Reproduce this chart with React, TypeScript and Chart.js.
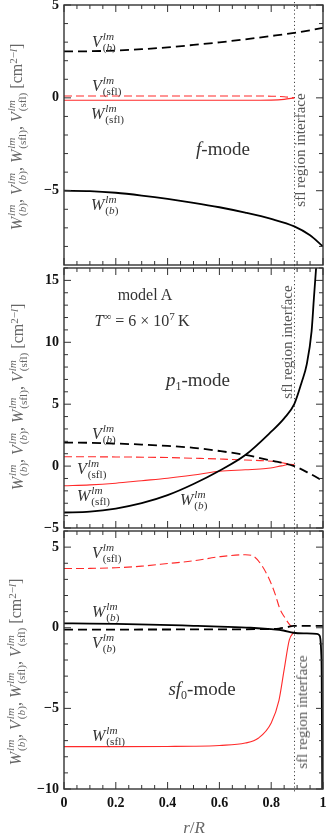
import React, { useEffect, useRef } from "react";
import { Chart, registerables } from "chart.js";
Chart.register(...registerables);

const SERIF = '"Liberation Serif", "DejaVu Serif", "Times New Roman", serif';
const PAGE_W = 327;
const PAGE_H = 836;
const PLOT_LEFT = 64;
const PLOT_RIGHT = 323;
const X_AXIS_H = 30;
const INTERFACE_R = 0.889;

// ---- shared x axis ----
const X_LABELS = [0, 0.2, 0.4, 0.6, 0.8, 1];
const X_MINOR = [0.05, 0.1, 0.15, 0.25, 0.3, 0.35, 0.45, 0.5, 0.55, 0.65, 0.7, 0.75, 0.85, 0.9, 0.95];

// ---- panel 1: f-mode ----
const F_Y_LABELS = [-5, 0, 5];
const F_Y_MINOR = [-8, -7, -6, -4, -3, -2, -1, 1, 2, 3, 4];
const F_R = [0, 0.1, 0.2, 0.3, 0.4, 0.5, 0.6, 0.7, 0.8, 0.889, 0.95, 1.0];
const F_VB = [2.5, 2.51, 2.55, 2.62, 2.72, 2.85, 2.99, 3.15, 3.33, 3.5, 3.64, 3.77];
const F_WB = [-5.0, -5.02, -5.11, -5.26, -5.44, -5.65, -5.89, -6.18, -6.52, -6.92, -7.4, -8.0];
const F_SFL_R = [0, 0.2, 0.4, 0.6, 0.7, 0.8, 0.85, 0.889];
const F_VSFL = [0.1, 0.1, 0.1, 0.1, 0.1, 0.09, 0.06, 0.0];
const F_WSFL = [-0.13, -0.13, -0.13, -0.13, -0.13, -0.12, -0.08, 0.0];

// ---- panel 2: p1-mode ----
const P_Y_LABELS = [-5, 0, 5, 10, 15];
const P_Y_MINOR = [-4, -3, -2, -1, 1, 2, 3, 4, 6, 7, 8, 9, 11, 12, 13, 14, 16];
const P_WB_R = [0, 0.1, 0.2, 0.3, 0.4, 0.5, 0.6, 0.7, 0.8, 0.85, 0.889, 0.918, 0.937, 0.956, 0.965, 0.973, 0.977];
const P_WB = [-3.75, -3.68, -3.43, -3.0, -2.35, -1.45, -0.38, 0.89, 2.78, 3.86, 5.0, 6.8, 8.2, 10.9, 13.6, 15.9, 17.0];
const P_VB_R = [0, 0.1, 0.2, 0.3, 0.4, 0.5, 0.6, 0.7, 0.8, 0.889, 0.95, 1.0];
const P_VB = [1.9, 1.88, 1.82, 1.74, 1.63, 1.48, 1.22, 0.9, 0.45, 0.0, -0.62, -1.2];
const P_VSFL_R = [0, 0.2, 0.4, 0.525, 0.6, 0.7, 0.82, 0.873, 0.889];
const P_VSFL = [0.76, 0.74, 0.69, 0.62, 0.57, 0.49, 0.35, 0.14, 0.08];
const P_WSFL_R = [0, 0.1, 0.2, 0.3, 0.4, 0.5, 0.6, 0.7, 0.78, 0.84, 0.873, 0.889];
const P_WSFL = [-1.59, -1.52, -1.38, -1.18, -0.98, -0.72, -0.42, -0.3, -0.2, 0.02, 0.15, 0.12];

// ---- panel 3: sf0-mode ----
const S_Y_LABELS = [-10, -5, 0, 5];
const S_Y_MINOR = [-9, -8, -7, -6, -4, -3, -2, -1, 1, 2, 3, 4, 6];
const S_VSFL_R = [0, 0.1, 0.2, 0.3, 0.4, 0.5, 0.6, 0.7, 0.73, 0.76, 0.79, 0.815, 0.834, 0.853, 0.873, 0.886];
const S_VSFL = [3.67, 3.68, 3.72, 3.82, 3.98, 4.15, 4.4, 4.53, 4.45, 3.95, 3.1, 2.1, 1.15, 0.62, 0.16, 0.02];
const S_WB_R = [0, 0.1, 0.2, 0.33, 0.5, 0.6, 0.72, 0.8, 0.847, 0.886, 0.93, 0.976, 0.985, 0.99, 0.993, 0.995, 0.997];
const S_WB = [0.27, 0.26, 0.24, 0.2, 0.12, 0.07, 0.0, -0.09, -0.17, -0.31, -0.35, -0.38, -0.45, -0.7, -1.5, -3.0, -10.0];
const S_VB_R = [0, 0.3, 0.6, 0.78, 0.83, 0.86, 0.886, 0.95, 1.0];
const S_VB = [-0.12, -0.11, -0.1, -0.08, -0.05, 0.03, 0.12, 0.12, 0.12];
const S_WSFL_R = [0, 0.2, 0.4, 0.5, 0.6, 0.7, 0.75, 0.8, 0.83, 0.85, 0.87, 0.886];
const S_WSFL = [-7.37, -7.37, -7.36, -7.35, -7.3, -7.15, -6.85, -5.9, -4.5, -2.6, -0.75, -0.3];

type Series = { r: number[]; v: number[]; color: string; dash: number[]; width: number };
type Panel = {
  top: number;
  bottom: number;
  yMin: number;
  yMax: number;
  yLabels: number[];
  yMinor: number[];
  showX: boolean;
  series: Series[];
};

const BLACK = "#000000";
const RED = "#ff2a2a";
const BLACK_DASH = [9, 5];
const RED_DASH = [8, 4];

const PANELS: Panel[] = [
  {
    top: 5, bottom: 265, yMin: -9, yMax: 5, yLabels: F_Y_LABELS, yMinor: F_Y_MINOR, showX: false,
    series: [
      { r: F_R, v: F_VB, color: BLACK, dash: BLACK_DASH, width: 1.8 },
      { r: F_R, v: F_WB, color: BLACK, dash: [], width: 1.8 },
      { r: F_SFL_R, v: F_VSFL, color: RED, dash: RED_DASH, width: 1.1 },
      { r: F_SFL_R, v: F_WSFL, color: RED, dash: [], width: 1.1 },
    ],
  },
  {
    top: 268, bottom: 528, yMin: -5, yMax: 16, yLabels: P_Y_LABELS, yMinor: P_Y_MINOR, showX: false,
    series: [
      { r: P_VB_R, v: P_VB, color: BLACK, dash: BLACK_DASH, width: 1.8 },
      { r: P_WB_R, v: P_WB, color: BLACK, dash: [], width: 1.8 },
      { r: P_VSFL_R, v: P_VSFL, color: RED, dash: RED_DASH, width: 1.1 },
      { r: P_WSFL_R, v: P_WSFL, color: RED, dash: [], width: 1.1 },
    ],
  },
  {
    top: 531, bottom: 789, yMin: -10, yMax: 6, yLabels: S_Y_LABELS, yMinor: S_Y_MINOR, showX: true,
    series: [
      { r: S_VB_R, v: S_VB, color: BLACK, dash: BLACK_DASH, width: 1.8 },
      { r: S_WB_R, v: S_WB, color: BLACK, dash: [], width: 1.8 },
      { r: S_VSFL_R, v: S_VSFL, color: RED, dash: RED_DASH, width: 1.1 },
      { r: S_WSFL_R, v: S_WSFL, color: RED, dash: [], width: 1.1 },
    ],
  },
];

const fmtNum = (v: number) => (v < 0 ? "\u2212" + String(Math.abs(v)) : String(v));

function framePlugin(p: Panel) {
  return {
    id: "frame",
    beforeDatasetsDraw(chart: any) {
      const { ctx, chartArea: a, scales } = chart;
      const xi = Math.round(scales.x.getPixelForValue(INTERFACE_R)) + 0.5;
      ctx.save();
      ctx.strokeStyle = "#444";
      ctx.lineWidth = 1;
      ctx.setLineDash([1.2, 2.6]);
      ctx.beginPath();
      ctx.moveTo(xi, a.top - 3);
      ctx.lineTo(xi, a.bottom + 3);
      ctx.stroke();
      ctx.restore();
    },
    afterDraw(chart: any) {
      const { ctx, chartArea: a, scales } = chart;
      const x = scales.x;
      const y = scales.y;
      ctx.save();
      ctx.strokeStyle = "#333";
      ctx.lineWidth = 1;
      const xt = (vals: number[], len: number) => {
        vals.forEach((v) => {
          const px = x.getPixelForValue(v);
          ctx.beginPath();
          ctx.moveTo(px, a.bottom);
          ctx.lineTo(px, a.bottom - len);
          ctx.moveTo(px, a.top);
          ctx.lineTo(px, a.top + len);
          ctx.stroke();
        });
      };
      const yt = (vals: number[], len: number) => {
        vals.forEach((v) => {
          if (v < p.yMin || v > p.yMax) return;
          const py = y.getPixelForValue(v);
          ctx.beginPath();
          ctx.moveTo(a.left, py);
          ctx.lineTo(a.left + len, py);
          ctx.moveTo(a.right, py);
          ctx.lineTo(a.right - len, py);
          ctx.stroke();
        });
      };
      xt(X_LABELS, 7);
      xt(X_MINOR, 4);
      yt(p.yLabels, 7);
      yt(p.yMinor, 4);
      ctx.strokeStyle = "#333";
      ctx.lineWidth = 1.4;
      ctx.strokeRect(a.left, a.top, a.right - a.left, a.bottom - a.top);
      ctx.restore();
    },
  };
}

function makeChart(canvas: HTMLCanvasElement, p: Panel) {
  const tickFont = { family: SERIF, size: 14, weight: "bold" as const };
  return new Chart(canvas, {
    type: "line",
    data: {
      datasets: p.series.map((s) => ({
        data: s.r.map((r, i) => ({ x: r, y: s.v[i] })),
        borderColor: s.color,
        borderWidth: s.width,
        borderDash: s.dash,
        pointRadius: 0,
        fill: false,
        cubicInterpolationMode: "monotone" as const,
      })),
    },
    options: {
      animation: false,
      responsive: false,
      maintainAspectRatio: false,
      events: [],
      layout: {
        padding: {
          top: p.top,
          left: 0,
          right: PAGE_W - PLOT_RIGHT,
          bottom: p.showX ? PAGE_H - p.bottom - X_AXIS_H : PAGE_H - p.bottom,
        },
      },
      plugins: { legend: { display: false }, tooltip: { enabled: false } },
      scales: {
        x: {
          type: "linear",
          min: 0,
          max: 1,
          display: p.showX,
          grid: { display: false, drawTicks: false },
          border: { display: false },
          ticks: {
            font: tickFont,
            color: "#111",
            padding: 6,
            maxRotation: 0,
            autoSkip: false,
            callback: (v: any) => String(v),
          },
          afterBuildTicks: (s: any) => {
            s.ticks = X_LABELS.map((v) => ({ value: v }));
          },
          afterFit: (s: any) => {
            s.height = p.showX ? X_AXIS_H : 0;
            s.paddingLeft = 0;
            s.paddingRight = 0;
          },
        },
        y: {
          type: "linear",
          min: p.yMin,
          max: p.yMax,
          grid: { display: false, drawTicks: false },
          border: { display: false },
          ticks: {
            font: tickFont,
            color: "#111",
            padding: 5,
            autoSkip: false,
            callback: (v: any) => fmtNum(Number(v)),
          },
          afterBuildTicks: (s: any) => {
            s.ticks = p.yLabels.map((v) => ({ value: v }));
          },
          afterFit: (s: any) => {
            s.width = PLOT_LEFT;
            s.paddingTop = 0;
            s.paddingBottom = 0;
          },
        },
      },
    },
    plugins: [framePlugin(p)],
  } as any);
}

const B = () => (
  <>
    (<i>b</i>)
  </>
);

function Sym({ b, sub, size = 16 }: { b: string; sub: React.ReactNode; size?: number }) {
  return (
    <span style={{ display: "inline-flex", alignItems: "center", whiteSpace: "nowrap", verticalAlign: "middle" }}>
      <span style={{ fontStyle: "italic", fontSize: size, lineHeight: 1 }}>{b}</span>
      <span
        style={{
          display: "inline-flex",
          flexDirection: "column",
          fontSize: size * 0.7,
          lineHeight: 1.0,
          marginLeft: 1,
          alignItems: "flex-start",
        }}
      >
        <span style={{ fontStyle: "italic" }}>lm</span>
        <span>{sub}</span>
      </span>
    </span>
  );
}

const LABEL_COLOR = "#333";

function At({ x, y, children, color = LABEL_COLOR }: { x: number; y: number; children: React.ReactNode; color?: string }) {
  return (
    <div style={{ position: "absolute", left: x, top: y, fontFamily: SERIF, color, lineHeight: 1, whiteSpace: "nowrap" }}>
      {children}
    </div>
  );
}

function Center({
  x, y, children, rotate = 0, size = 16, color = LABEL_COLOR, italic = false,
}: { x: number; y: number; children: React.ReactNode; rotate?: number; size?: number; color?: string; italic?: boolean }) {
  return (
    <div
      style={{
        position: "absolute",
        left: x,
        top: y,
        transform: `translate(-50%, -50%) rotate(${rotate}deg)`,
        fontFamily: SERIF,
        fontSize: size,
        color,
        lineHeight: rotate ? "16px" : 1,
        whiteSpace: "nowrap",
        fontStyle: italic ? "italic" : "normal",
      }}
    >
      {children}
    </div>
  );
}

function YTitle({ x, y }: { x: number; y: number }) {
  const s = 16;
  return (
    <Center x={x} y={y} rotate={-90} size={s} color="#666">
      <span style={{ display: "inline-flex", alignItems: "center" }}>
        <Sym b="W" sub={<B />} size={s} />
        <span>,&nbsp;</span>
        <Sym b="V" sub={<B />} size={s} />
        <span>,&nbsp;</span>
        <Sym b="W" sub="(sfl)" size={s} />
        <span>,&nbsp;</span>
        <Sym b="V" sub="(sfl)" size={s} />
        <span>&nbsp;[cm</span>
        <span style={{ fontSize: 11, alignSelf: "flex-start", marginTop: -1 }}>
          2&minus;<i>l</i>
        </span>
        <span>]</span>
      </span>
    </Center>
  );
}

export default function App() {
  const r1 = useRef<HTMLCanvasElement>(null);
  const r2 = useRef<HTMLCanvasElement>(null);
  const r3 = useRef<HTMLCanvasElement>(null);

  useEffect(() => {
    const refs = [r1, r2, r3];
    const charts = PANELS.map((p, i) => makeChart(refs[i].current as HTMLCanvasElement, p));
    return () => charts.forEach((c) => c.destroy());
  }, []);

  const canvasStyle: React.CSSProperties = { position: "absolute", left: 0, top: 0, width: PAGE_W, height: PAGE_H };

  return (
    <div style={{ position: "fixed", left: 0, top: 0, width: PAGE_W, height: PAGE_H, background: "#fff", overflow: "hidden" }}>
      <canvas ref={r1} width={PAGE_W} height={PAGE_H} style={canvasStyle} />
      <canvas ref={r2} width={PAGE_W} height={PAGE_H} style={canvasStyle} />
      <canvas ref={r3} width={PAGE_W} height={PAGE_H} style={canvasStyle} />

      {/* y-axis titles */}
      <YTitle x={17} y={137} />
      <YTitle x={18} y={397} />
      <YTitle x={16} y={672} />

      {/* interface labels */}
      <Center x={300} y={150} rotate={-90} size={15} color="#555">sfl region interface</Center>
      <Center x={287} y={342} rotate={-90} size={15} color="#555">sfl region interface</Center>
      <Center x={302} y={712} rotate={-90} size={15} color="#555">sfl region interface</Center>

      {/* panel 1 */}
      <At x={92} y={31}><Sym b="V" sub={<B />} /></At>
      <At x={92} y={75}><Sym b="V" sub="(sfl)" /></At>
      <At x={91} y={103}><Sym b="W" sub="(sfl)" /></At>
      <At x={91} y={194}><Sym b="W" sub={<B />} /></At>
      <Center x={223} y={148} size={19}><i>f</i>-mode</Center>

      {/* panel 2 */}
      <Center x={145} y={295} size={16}>model A</Center>
      <Center x={142} y={320} size={16}>
        <i>T</i>
        <sup style={{ fontSize: 11 }}>&infin;</sup>&nbsp;=&nbsp;6&nbsp;&times;&nbsp;10
        <sup style={{ fontSize: 11 }}>7</sup>&thinsp;K
      </Center>
      <Center x={198} y={381} size={19}>
        <i>p</i>
        <sub style={{ fontSize: 12 }}>1</sub>-mode
      </Center>
      <At x={92} y={423}><Sym b="V" sub={<B />} /></At>
      <At x={77} y={458}><Sym b="V" sub="(sfl)" /></At>
      <At x={77} y={485}><Sym b="W" sub="(sfl)" /></At>
      <At x={180} y={489}><Sym b="W" sub={<B />} /></At>

      {/* panel 3 */}
      <At x={92} y={542}><Sym b="V" sub="(sfl)" /></At>
      <At x={92} y={601}><Sym b="W" sub={<B />} /></At>
      <At x={92} y={632}><Sym b="V" sub={<B />} /></At>
      <At x={92} y={725}><Sym b="W" sub="(sfl)" /></At>
      <Center x={202} y={690} size={19}>
        <i>sf</i>
        <sub style={{ fontSize: 12 }}>0</sub>-mode
      </Center>

      {/* x-axis title */}
      <Center x={194} y={827} size={17} color="#666">
        <i>r</i>/<i>R</i>
      </Center>
    </div>
  );
}
